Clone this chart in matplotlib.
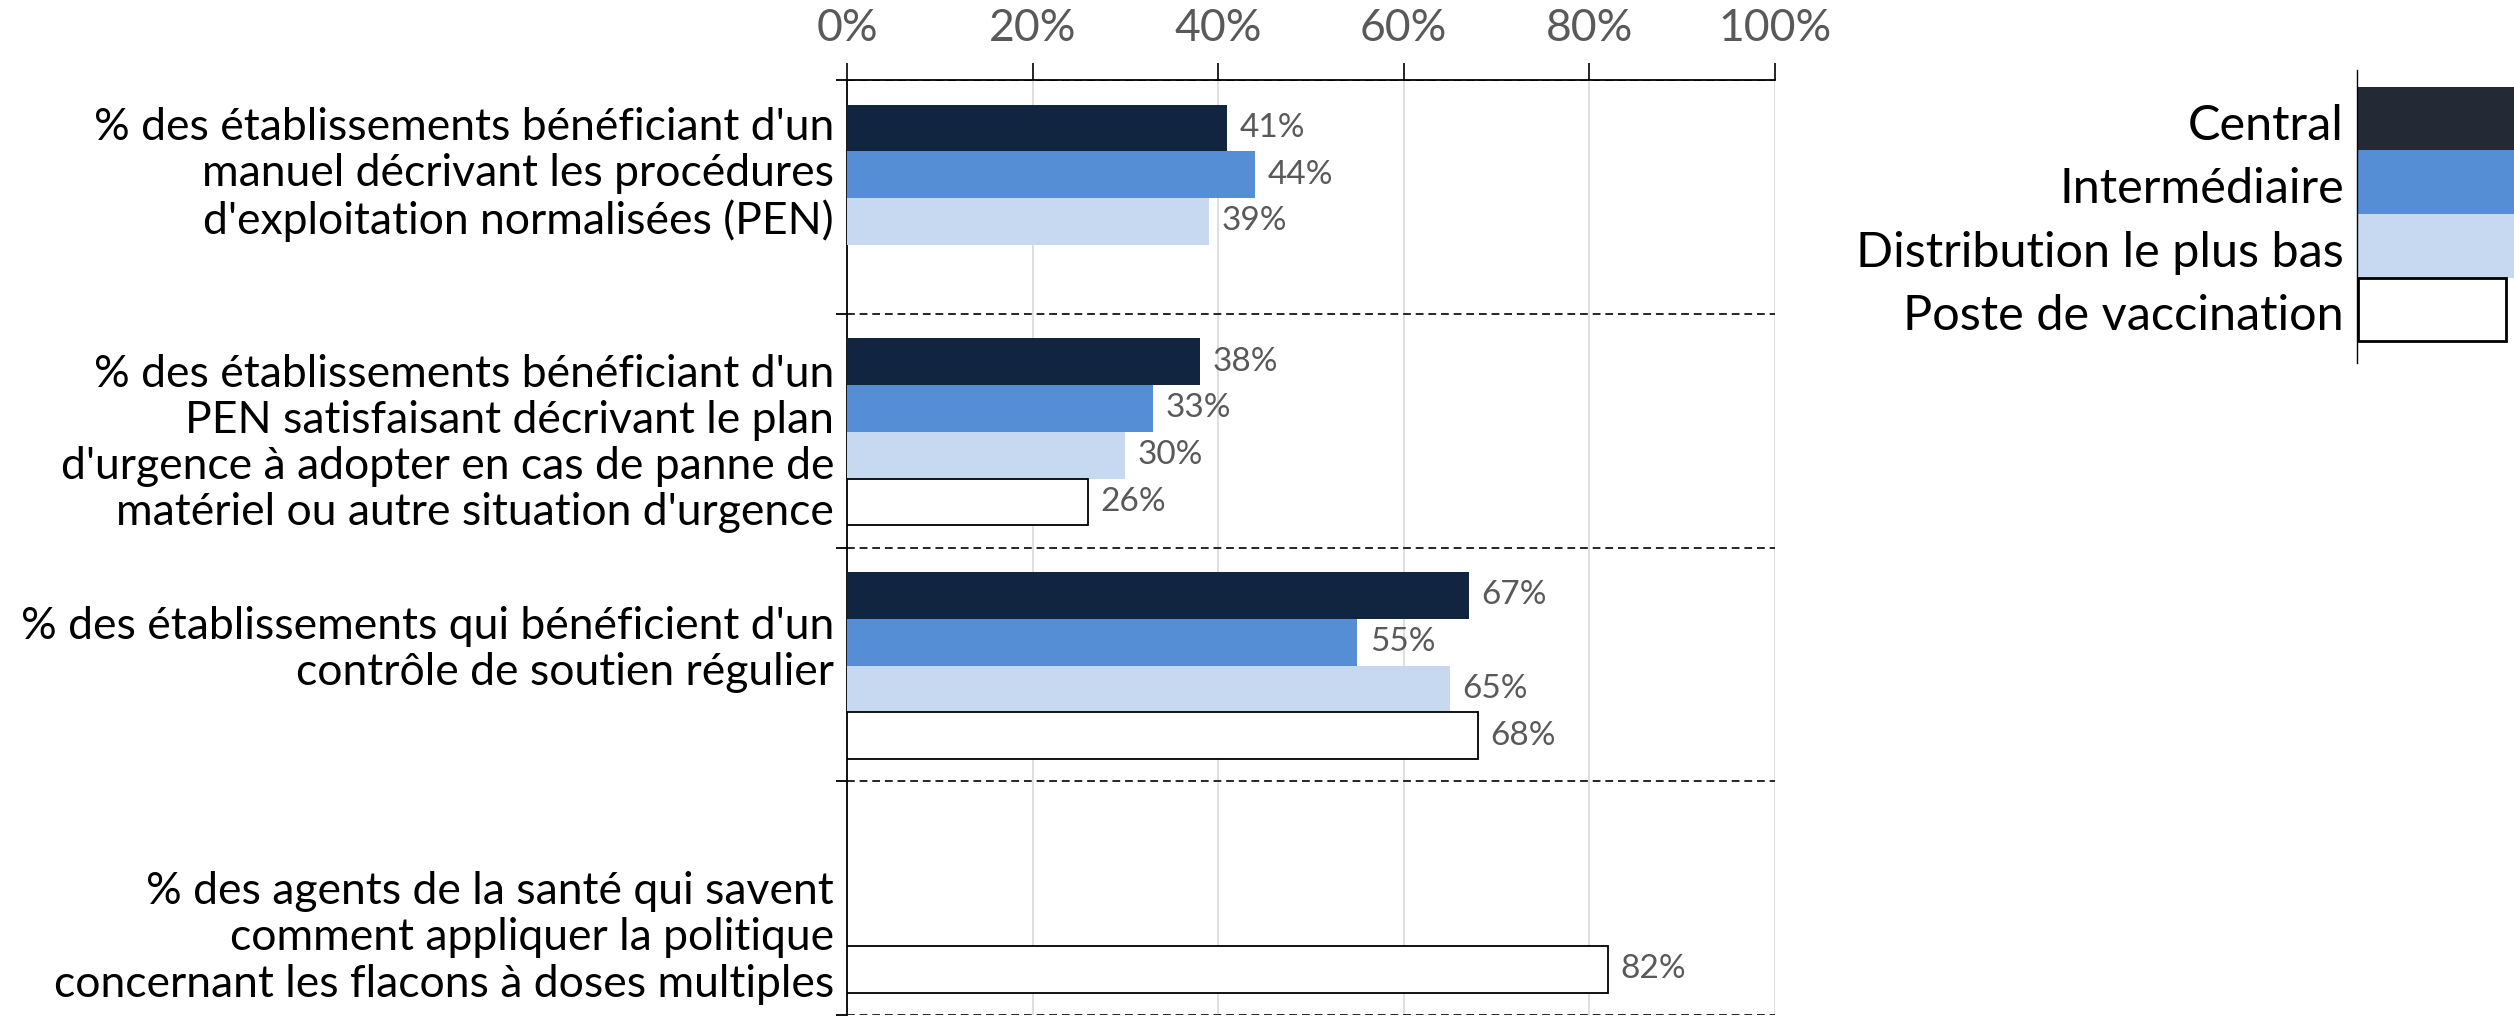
import numpy as np
import matplotlib.pyplot as plt
from matplotlib.patches import Rectangle
from matplotlib.lines import Line2D
from matplotlib.ticker import MultipleLocator, FuncFormatter

plt.rcParams['font.family'] = ['Lato', 'DejaVu Sans']

# indicateurs (axe vertical) et niveaux (séries)
categories = [
    "% des établissements bénéficiant d'un\nmanuel décrivant les procédures\nd'exploitation normalisées (PEN)",
    "% des établissements bénéficiant d'un\nPEN satisfaisant décrivant le plan\nd'urgence à adopter en cas de panne de\nmatériel ou autre situation d'urgence",
    "% des établissements qui bénéficient d'un\ncontrôle de soutien régulier",
    "% des agents de la santé qui savent\ncomment appliquer la politique\nconcernant les flacons à doses multiples",
]
series = ['Central', 'Intermédiaire', 'Distribution le plus bas', 'Poste de vaccination']
central = [41, 38, 67, np.nan]
intermediaire = [44, 33, 55, np.nan]
distribution = [39, 30, 65, np.nan]
poste = [np.nan, 26, 68, 82]

values = [central, intermediaire, distribution, poste]
bar_colors = ['#112540', '#558ED5', '#C6D9F1', 'white']
legend_colors = ['#242A35', '#558ED5', '#C6D9F1', 'white']
edge_colors = ['none', 'none', 'none', 'black']
label_shift = [-0.095, 0.055, -0.065, 0.17]

W, H = 2514, 1017
fig = plt.figure(figsize=(W / 100, H / 100), dpi=100)
ax = fig.add_axes([847 / W, 1 - 1015 / H, 928 / W, 935 / H])

bar_h = 0.2
for k, (vals, col, ec) in enumerate(zip(values, bar_colors, edge_colors)):
    for i, v in enumerate(vals):
        if np.isnan(v):
            continue
        y = i + 0.505 + (k - 1.5) * bar_h
        ax.barh(y, v, height=bar_h, color=col, edgecolor=ec,
                linewidth=1.3 if ec != 'none' else 0, zorder=3)
        ax.annotate(f'{v:.0f}%', (v, y), xytext=(9, 0), textcoords='offset points',
                    va='center', ha='left', color='#595959', fontsize=24)

ax.set_xlim(0, 100)
ax.set_ylim(4, 0)
ax.xaxis.tick_top()
ax.xaxis.set_major_locator(MultipleLocator(20))
ax.xaxis.set_major_formatter(FuncFormatter(lambda x, _: f'{x:.0f}%'))
ax.tick_params(axis='x', which='major', length=12, width=1.2, color='black',
               labelsize=32, labelcolor='#595959', pad=10)
ax.set_yticks([0, 1, 2, 3, 4])
ax.set_yticklabels([])
ax.tick_params(axis='y', length=8, width=1.3, color='black')

ax.set_axisbelow(True)
ax.xaxis.grid(True, color='#D9D9D9', linewidth=1.2)
ax.yaxis.grid(True, color='#262626', linewidth=1.4, linestyle=(0, (4, 2.5)))

for side in ['right', 'bottom']:
    ax.spines[side].set_visible(False)
for side in ['top', 'left']:
    ax.spines[side].set_linewidth(1.3)
    ax.spines[side].set_color('black')

# libellés des indicateurs, alignés à droite contre l'axe
for i, cat in enumerate(categories):
    ax.text(-0.014, i + 0.5 + label_shift[i], cat, transform=ax.get_yaxis_transform(),
            ha='right', va='center', multialignment='right', fontsize=32,
            linespacing=1.16, color='black')

# légende sous forme de colonne de cases à droite
line_x = 2357 / W
fig.add_artist(Line2D([line_x, line_x], [1 - 70 / H, 1 - 363 / H], color='black',
                      linewidth=1.0, transform=fig.transFigure))
row_h = 63.5
for k, name in enumerate(series):
    top = 87 + k * row_h
    right = 2514 if k < 3 else 2506
    fig.add_artist(Rectangle((2358 / W, 1 - (top + row_h) / H), (right - 2358) / W, row_h / H,
                             facecolor=legend_colors[k], edgecolor=edge_colors[k],
                             linewidth=2.0 if edge_colors[k] != 'none' else 0,
                             transform=fig.transFigure))
    fig.text(2344 / W, 1 - (top + row_h / 2 + 7) / H, name, ha='right', va='center',
             fontsize=35, color='black')

fig.savefig('out.png', dpi=100)
